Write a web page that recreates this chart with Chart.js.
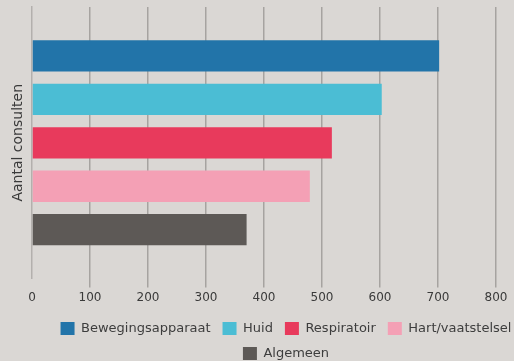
<!DOCTYPE html>
<html><head><meta charset="utf-8">
<script src="https://cdn.jsdelivr.net/npm/chart.js@4/dist/chart.umd.min.js"></script>
<style>
html,body{margin:0;padding:0;background:#dad7d4;}
#wrap{width:514px;height:361px;position:relative;}
</style></head>
<body><div id="wrap"><canvas id="c" width="514" height="361"></canvas></div>
<script>
const categories = [""];
const seriesNames = ["Bewegingsapparaat", "Huid", "Respiratoir", "Hart/vaatstelsel", "Algemeen"];
const seriesValues = [702, 603, 517, 479, 370];
const seriesColors = ["#2274a9", "#4bbdd4", "#e83a5c", "#f4a0b5", "#5d5956"];
const xTicks = [0, 100, 200, 300, 400, 500, 600, 700, 800];

const datasets = seriesNames.map((n, i) => ({
  label: n,
  data: [seriesValues[i]],
  backgroundColor: seriesColors[i],
  borderWidth: 0,
  barPercentage: 0.72,
  categoryPercentage: 0.8
}));

// shift the drawn legend to the right (reference legend is centred off-canvas-centre)
const shiftLegend = {
  id: 'shiftLegend',
  afterLayout(chart) {
    const lg = chart.legend;
    if (lg && !lg._shifted) {
      const orig = lg.draw;
      lg.draw = function (a) {
        const ctx = this.ctx;
        ctx.save();
        ctx.translate(38, 2);
        orig.call(this, a);
        ctx.restore();
      };
      lg._shifted = true;
    }
  }
};

new Chart(document.getElementById('c'), {
  type: 'bar',
  data: { labels: categories, datasets },
  plugins: [shiftLegend],
  options: {
    indexAxis: 'y',
    responsive: false,
    animation: false,
    devicePixelRatio: 1,
    layout: { padding: { top: 7, right: 18, left: 0, bottom: -7 } },
    plugins: {
      legend: {
        position: 'bottom',
        labels: {
          boxWidth: 14, boxHeight: 13, padding: 12,
          color: '#3d3d3d',
          font: { family: 'DejaVu Sans', size: 13 }
        }
      },
      tooltip: { enabled: false }
    },
    scales: {
      x: {
        min: 0, max: 800,
        afterBuildTicks: (ax) => { ax.ticks = xTicks.map(v => ({ value: v })); },
        grid: {
          color: (c) => (c.tick && c.tick.value === 0) ? 'rgba(0,0,0,0)' : '#a6a3a0',
          lineWidth: 1.5, tickLength: 9, drawTicks: true
        },
        border: { display: false },
        ticks: { color: '#3a3a3a', font: { family: 'DejaVu Sans', size: 12 }, padding: 3 }
      },
      y: {
        grid: { display: false },
        border: { display: true, color: '#b3b0ad', dash: [2, 3], width: 1.5 },
        ticks: { display: false },
        title: {
          display: true, text: 'Aantal consulten', color: '#3a3a3a',
          font: { family: 'DejaVu Sans', size: 14 }, padding: { top: 10, bottom: 0 }
        },
        afterFit: (ax) => { ax.width = 32; }
      }
    }
  }
});
</script></body></html>
